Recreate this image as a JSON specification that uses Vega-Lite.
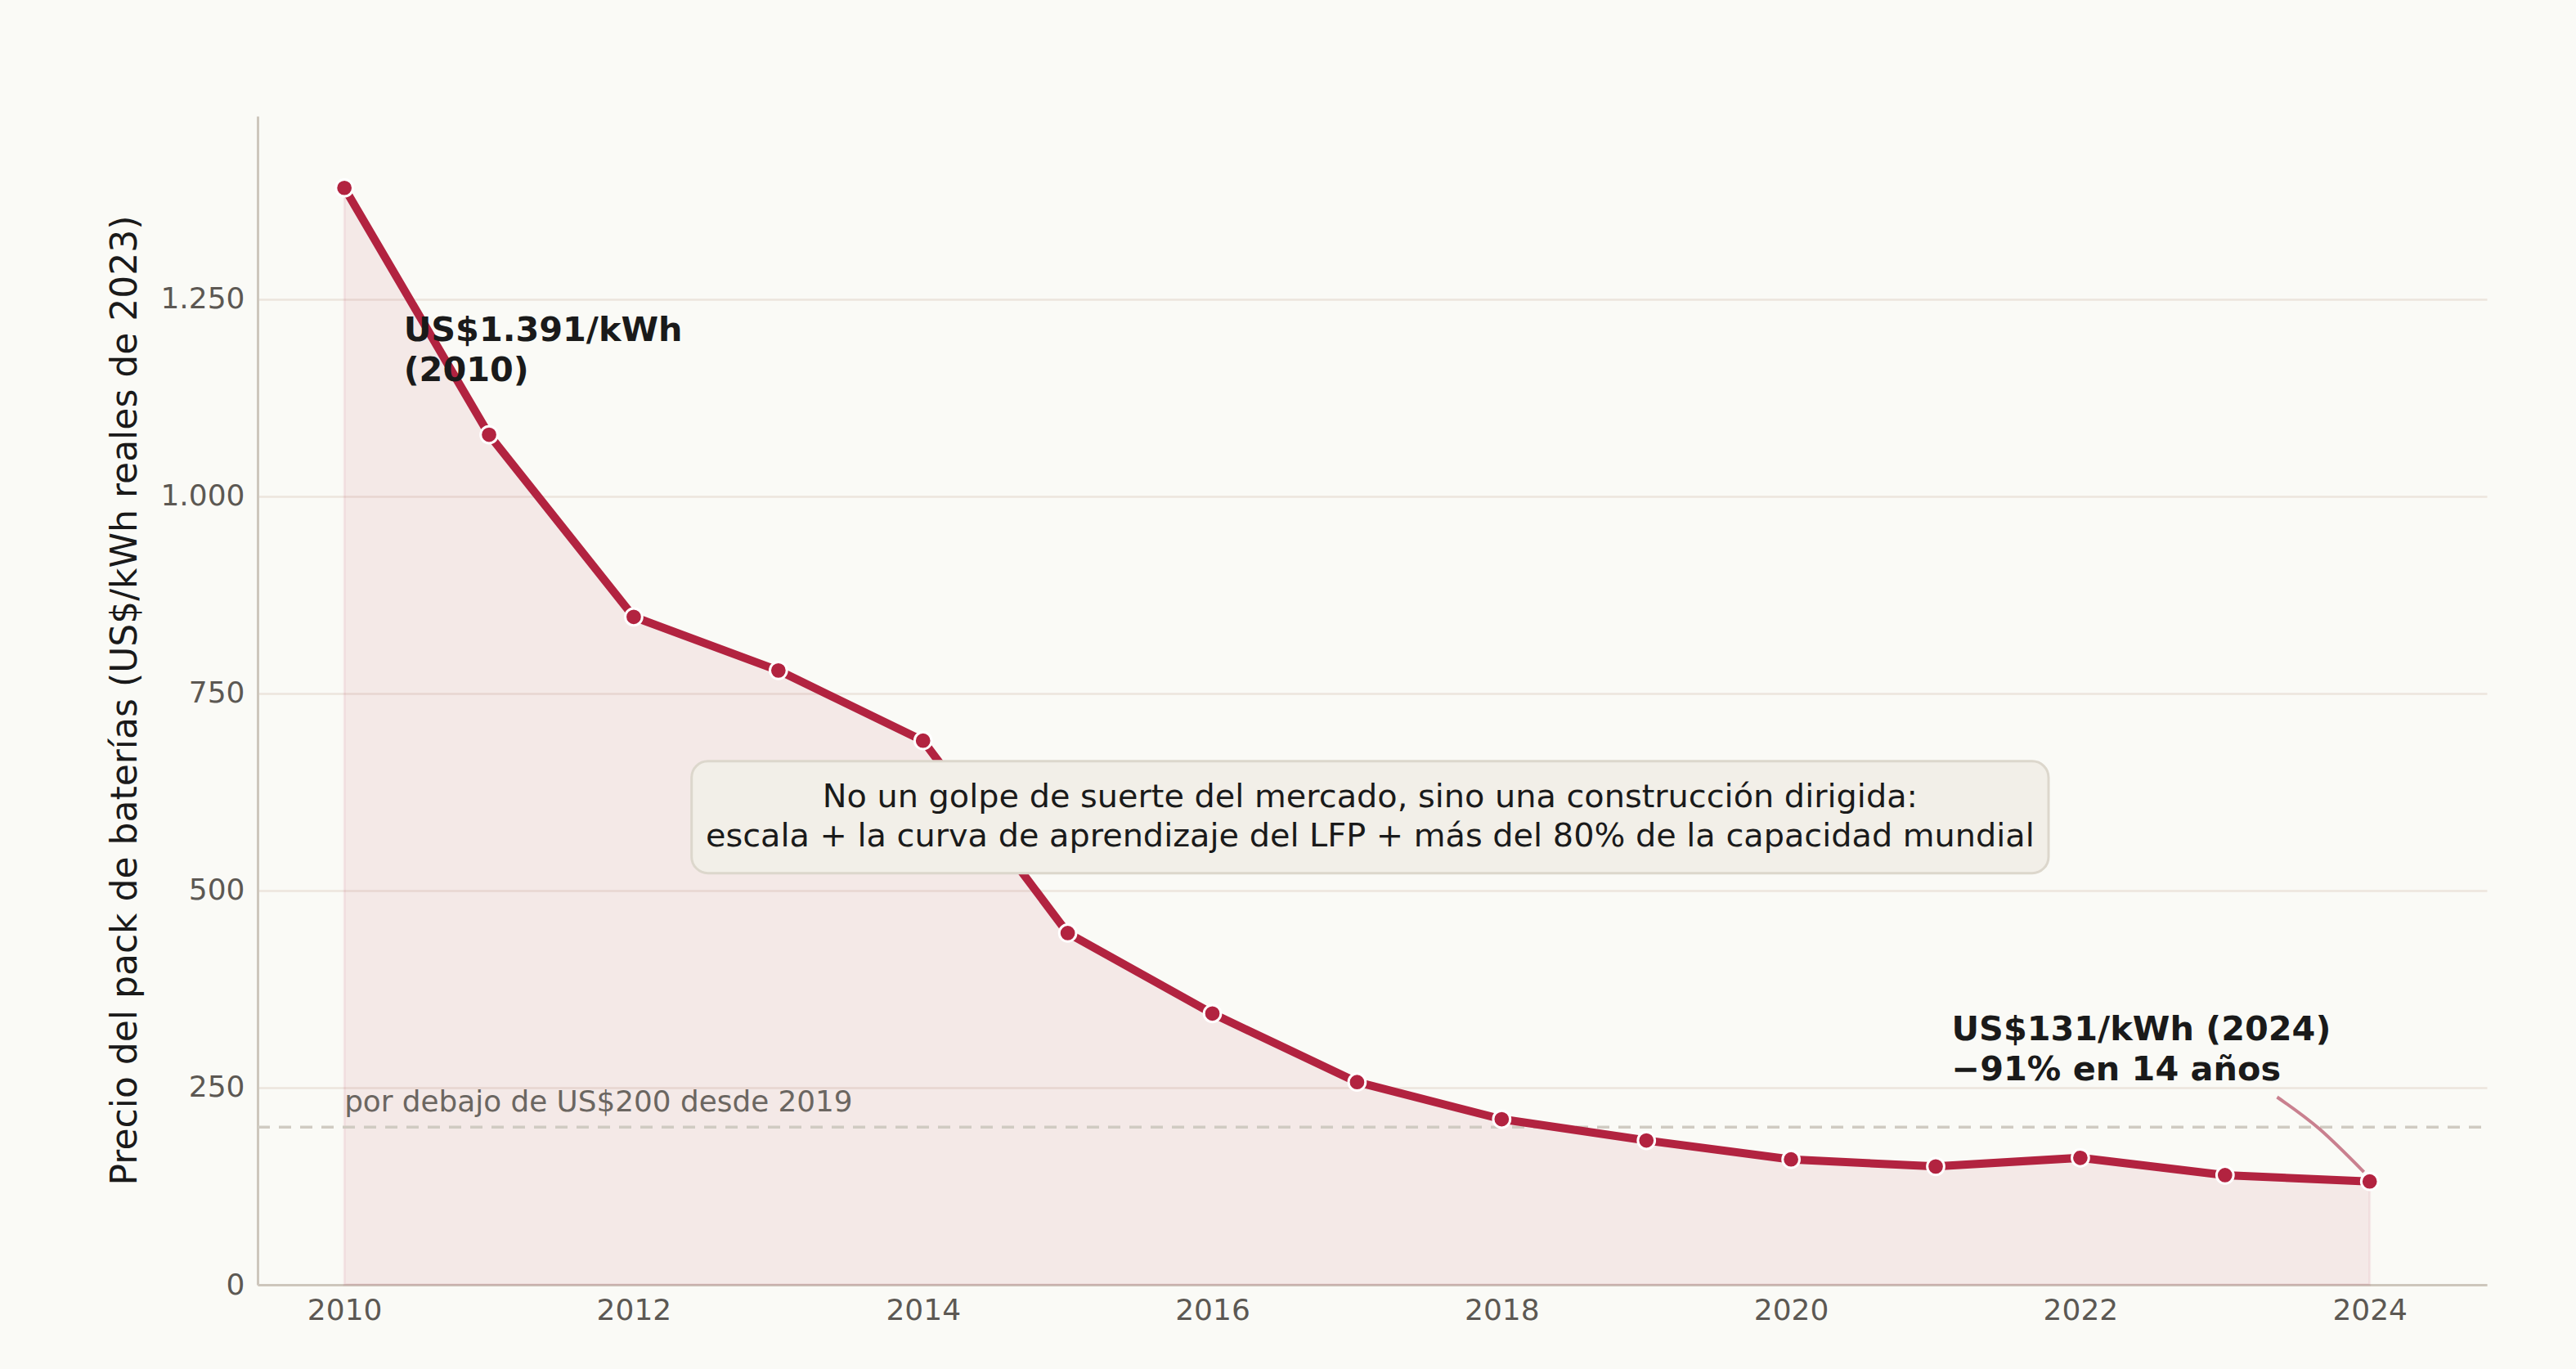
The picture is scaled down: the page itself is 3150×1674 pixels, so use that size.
{
  "$schema": "https://vega.github.io/schema/vega-lite/v6.json",
  "description": "Precio del pack de baterías de litio, 2010-2024 (US$/kWh reales de 2023)",
  "autosize": {"type": "none"},
  "width": 2726,
  "height": 1429,
  "padding": {"left": 315, "top": 142, "right": 109, "bottom": 103},
  "background": "#fafaf6",
  "datasets": {
    "precios": [
      {"year": 2010, "price": 1391},
      {"year": 2011, "price": 1078},
      {"year": 2012, "price": 847},
      {"year": 2013, "price": 779},
      {"year": 2014, "price": 690},
      {"year": 2015, "price": 446},
      {"year": 2016, "price": 344},
      {"year": 2017, "price": 257},
      {"year": 2018, "price": 210},
      {"year": 2019, "price": 183},
      {"year": 2020, "price": 159},
      {"year": 2021, "price": 150},
      {"year": 2022, "price": 161},
      {"year": 2023, "price": 139},
      {"year": 2024, "price": 131}
    ],
    "conector": [
      {"year": 2023.36, "price": 238},
      {"year": 2023.65, "price": 198},
      {"year": 2023.96, "price": 143}
    ],
    "nota": [{"id": 1}]
  },
  "layer": [
    {
      "data": {"name": "precios"},
      "mark": {
        "type": "area",
        "color": "#b22340",
        "fillOpacity": 0.08,
        "stroke": "#b22340",
        "strokeOpacity": 0.07,
        "strokeWidth": 3
      },
      "encoding": {
        "x": {
          "field": "year",
          "type": "quantitative",
          "scale": {"domain": [2009.4, 2024.81], "nice": false, "zero": false},
          "axis": {
            "title": null,
            "values": [2010, 2012, 2014, 2016, 2018, 2020, 2022, 2024],
            "format": "d",
            "grid": false,
            "ticks": false,
            "labelPadding": 14
          }
        },
        "y": {
          "field": "price",
          "type": "quantitative",
          "scale": {"domain": [0, 1482], "nice": false},
          "axis": {
            "title": "Precio del pack de baterías  (US$/kWh reales de 2023)",
            "values": [0, 250, 500, 750, 1000, 1250],
            "labelExpr": "replace(format(datum.value, ','), ',', '.')",
            "grid": true,
            "ticks": false,
            "labelPadding": 16,
            "titleAngle": -90,
            "titleX": -149,
            "titleY": 714,
            "titleAlign": "center",
            "titleBaseline": "alphabetic"
          }
        }
      }
    },
    {
      "data": {"name": "nota"},
      "mark": {"type": "rule", "color": "#d0cbc2", "strokeWidth": 3.5, "strokeDash": [15, 11]},
      "encoding": {
        "x": {"datum": 2009.4, "type": "quantitative"},
        "x2": {"datum": 2024.81},
        "y": {"datum": 200, "type": "quantitative"}
      }
    },
    {
      "data": {"name": "nota"},
      "mark": {
        "type": "text",
        "text": "por debajo de US$200 desde 2019",
        "font": "DejaVu Sans",
        "fontSize": 35.8,
        "color": "#6b6661",
        "align": "left",
        "baseline": "alphabetic"
      },
      "encoding": {
        "x": {"datum": 2010.0, "type": "quantitative"},
        "y": {"datum": 220, "type": "quantitative"}
      }
    },
    {
      "data": {"name": "precios"},
      "mark": {"type": "line", "color": "#b22340", "strokeWidth": 10, "strokeJoin": "round"},
      "encoding": {
        "x": {"field": "year", "type": "quantitative"},
        "y": {"field": "price", "type": "quantitative"}
      }
    },
    {
      "data": {"name": "precios"},
      "mark": {
        "type": "circle",
        "size": 430,
        "fill": "#b22340",
        "fillOpacity": 1,
        "stroke": "#ffffff",
        "strokeWidth": 3
      },
      "encoding": {
        "x": {"field": "year", "type": "quantitative"},
        "y": {"field": "price", "type": "quantitative"}
      }
    },
    {
      "data": {"name": "conector"},
      "mark": {"type": "line", "color": "#c9808f", "strokeWidth": 4, "interpolate": "cardinal"},
      "encoding": {
        "x": {"field": "year", "type": "quantitative"},
        "y": {"field": "price", "type": "quantitative"}
      }
    },
    {
      "data": {"name": "nota"},
      "mark": {
        "type": "rect",
        "fill": "#f2efe8",
        "stroke": "#dcd7cc",
        "strokeWidth": 3,
        "cornerRadius": 20
      },
      "encoding": {
        "x": {"datum": 2012.4, "type": "quantitative"},
        "x2": {"datum": 2021.78},
        "y": {"datum": 664, "type": "quantitative"},
        "y2": {"datum": 522}
      }
    },
    {
      "data": {"name": "nota"},
      "mark": {
        "type": "text",
        "text": [
          "No un golpe de suerte del mercado, sino una construcción dirigida:",
          "escala + la curva de aprendizaje del LFP + más del 80% de la capacidad mundial"
        ],
        "font": "DejaVu Sans",
        "fontSize": 39.8,
        "lineHeight": 48,
        "color": "#1a1a1a",
        "align": "center",
        "baseline": "alphabetic"
      },
      "encoding": {
        "x": {"datum": 2017.09, "type": "quantitative"},
        "y": {"datum": 606, "type": "quantitative"}
      }
    },
    {
      "data": {"name": "nota"},
      "mark": {
        "type": "text",
        "text": ["US$1.391/kWh", "(2010)"],
        "font": "DejaVu Sans",
        "fontSize": 41.4,
        "fontWeight": "bold",
        "lineHeight": 49,
        "color": "#1a1a1a",
        "align": "left",
        "baseline": "alphabetic"
      },
      "encoding": {
        "x": {"datum": 2010.41, "type": "quantitative"},
        "y": {"datum": 1197, "type": "quantitative"}
      }
    },
    {
      "data": {"name": "nota"},
      "mark": {
        "type": "text",
        "text": ["US$131/kWh (2024)", "−91% en 14 años"],
        "font": "DejaVu Sans",
        "fontSize": 41.4,
        "fontWeight": "bold",
        "lineHeight": 49,
        "color": "#1a1a1a",
        "align": "left",
        "baseline": "alphabetic"
      },
      "encoding": {
        "x": {"datum": 2021.11, "type": "quantitative"},
        "y": {"datum": 310, "type": "quantitative"}
      }
    }
  ],
  "config": {
    "view": {"stroke": null},
    "font": "DejaVu Sans",
    "axis": {
      "labelFont": "DejaVu Sans",
      "labelFontSize": 36,
      "labelColor": "#5c5853",
      "titleFont": "DejaVu Sans",
      "titleFontSize": 44,
      "titleFontWeight": "normal",
      "titleColor": "#1a1a1a",
      "domainColor": "#cdc6bc",
      "domainWidth": 3,
      "gridColor": "#ece5dd",
      "gridWidth": 2.5
    }
  }
}
